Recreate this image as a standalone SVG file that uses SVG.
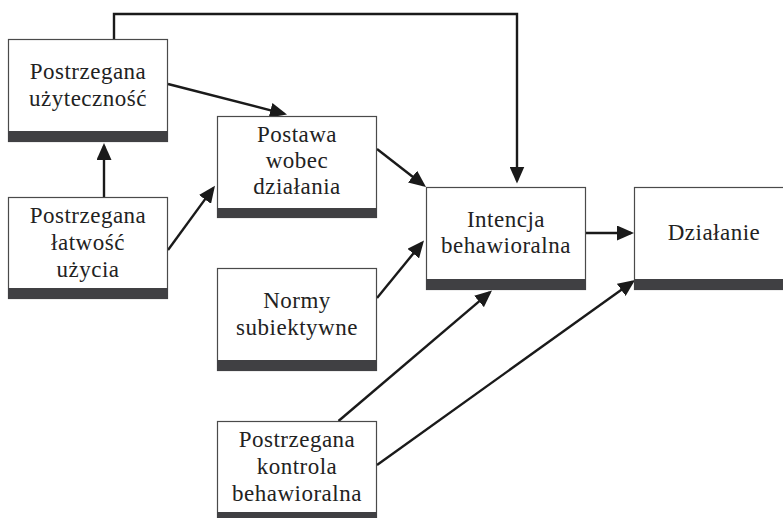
<svg xmlns="http://www.w3.org/2000/svg" width="783" height="518" viewBox="0 0 783 518">
  <style>
    .box { fill: #ffffff; stroke: #4a4a4a; stroke-width: 1.2; }
    .bar { fill: #404043; }
    .label { font-family: "Liberation Serif", "DejaVu Serif", serif; font-size: 23px; fill: #222222; text-anchor: middle; letter-spacing: 0.5px; }
    .link { fill: none; stroke: #1a1a1a; stroke-width: 2.4; stroke-linejoin: miter; }
  </style>
  <defs>
    <marker id="arrow" viewBox="0 0 17 15" refX="14" refY="7.5" markerWidth="17" markerHeight="15" markerUnits="userSpaceOnUse" orient="auto">
      <path d="M0,0 L17,7.5 L0,15 Z" fill="#1a1a1a"/>
    </marker>
  </defs>
  <rect width="783" height="518" fill="#ffffff"/>

  <!-- connectors -->
  <g id="connectors">
    <path class="link" d="M168,84 L284.1,113.8" marker-end="url(#arrow)"/>
    <path class="link" d="M104,197 L104,146" marker-end="url(#arrow)"/>
    <path class="link" d="M168,250 L213.2,188.1" marker-end="url(#arrow)"/>
    <path class="link" d="M114,39 L114,14 L517,14 L517,180.5" marker-end="url(#arrow)"/>
    <path class="link" d="M377,149 L423.6,185.2" marker-end="url(#arrow)"/>
    <path class="link" d="M377,298 L422.1,242.8" marker-end="url(#arrow)"/>
    <path class="link" d="M338.5,421 L489.7,292.4" marker-end="url(#arrow)"/>
    <path class="link" d="M377,465 L632.6,281.7" marker-end="url(#arrow)"/>
    <path class="link" d="M585,233 L631,233" marker-end="url(#arrow)"/>
  </g>

  <!-- nodes -->
  <g id="postrzegana-uzytecznosc">
    <rect class="box" x="8.5" y="39.5" width="159" height="102"/>
    <rect class="bar" x="8" y="131" width="160" height="11"/>
    <text class="label" x="88" y="79">Postrzegana</text>
    <text class="label" x="88" y="106">użyteczność</text>
  </g>

  <g id="postawa">
    <rect class="box" x="217.5" y="116.5" width="159" height="101"/>
    <rect class="bar" x="217" y="208" width="160" height="10"/>
    <text class="label" x="297" y="142">Postawa</text>
    <text class="label" x="297" y="168">wobec</text>
    <text class="label" x="297" y="194">działania</text>
  </g>

  <g id="postrzegana-latwosc">
    <rect class="box" x="8.5" y="197.5" width="159" height="101"/>
    <rect class="bar" x="8" y="288" width="160" height="11"/>
    <text class="label" x="88" y="223">Postrzegana</text>
    <text class="label" x="88" y="250">łatwość</text>
    <text class="label" x="88" y="277">użycia</text>
  </g>

  <g id="normy">
    <rect class="box" x="217.5" y="268.5" width="159" height="102"/>
    <rect class="bar" x="217" y="360" width="160" height="11"/>
    <text class="label" x="297" y="308">Normy</text>
    <text class="label" x="297" y="335">subiektywne</text>
  </g>

  <g id="kontrola">
    <rect class="box" x="217.5" y="421.5" width="159" height="102"/>
    <rect class="bar" x="217" y="512" width="160" height="11"/>
    <text class="label" x="297" y="447">Postrzegana</text>
    <text class="label" x="297" y="474">kontrola</text>
    <text class="label" x="297" y="501">behawioralna</text>
  </g>

  <g id="intencja">
    <rect class="box" x="426.5" y="187.5" width="159" height="102"/>
    <rect class="bar" x="426" y="279" width="160" height="11"/>
    <text class="label" x="506" y="227">Intencja</text>
    <text class="label" x="506" y="253">behawioralna</text>
  </g>

  <g id="dzialanie">
    <rect class="box" x="634.5" y="187.5" width="159" height="102"/>
    <rect class="bar" x="634" y="279" width="160" height="11"/>
    <text class="label" x="714" y="240">Działanie</text>
  </g>
</svg>
